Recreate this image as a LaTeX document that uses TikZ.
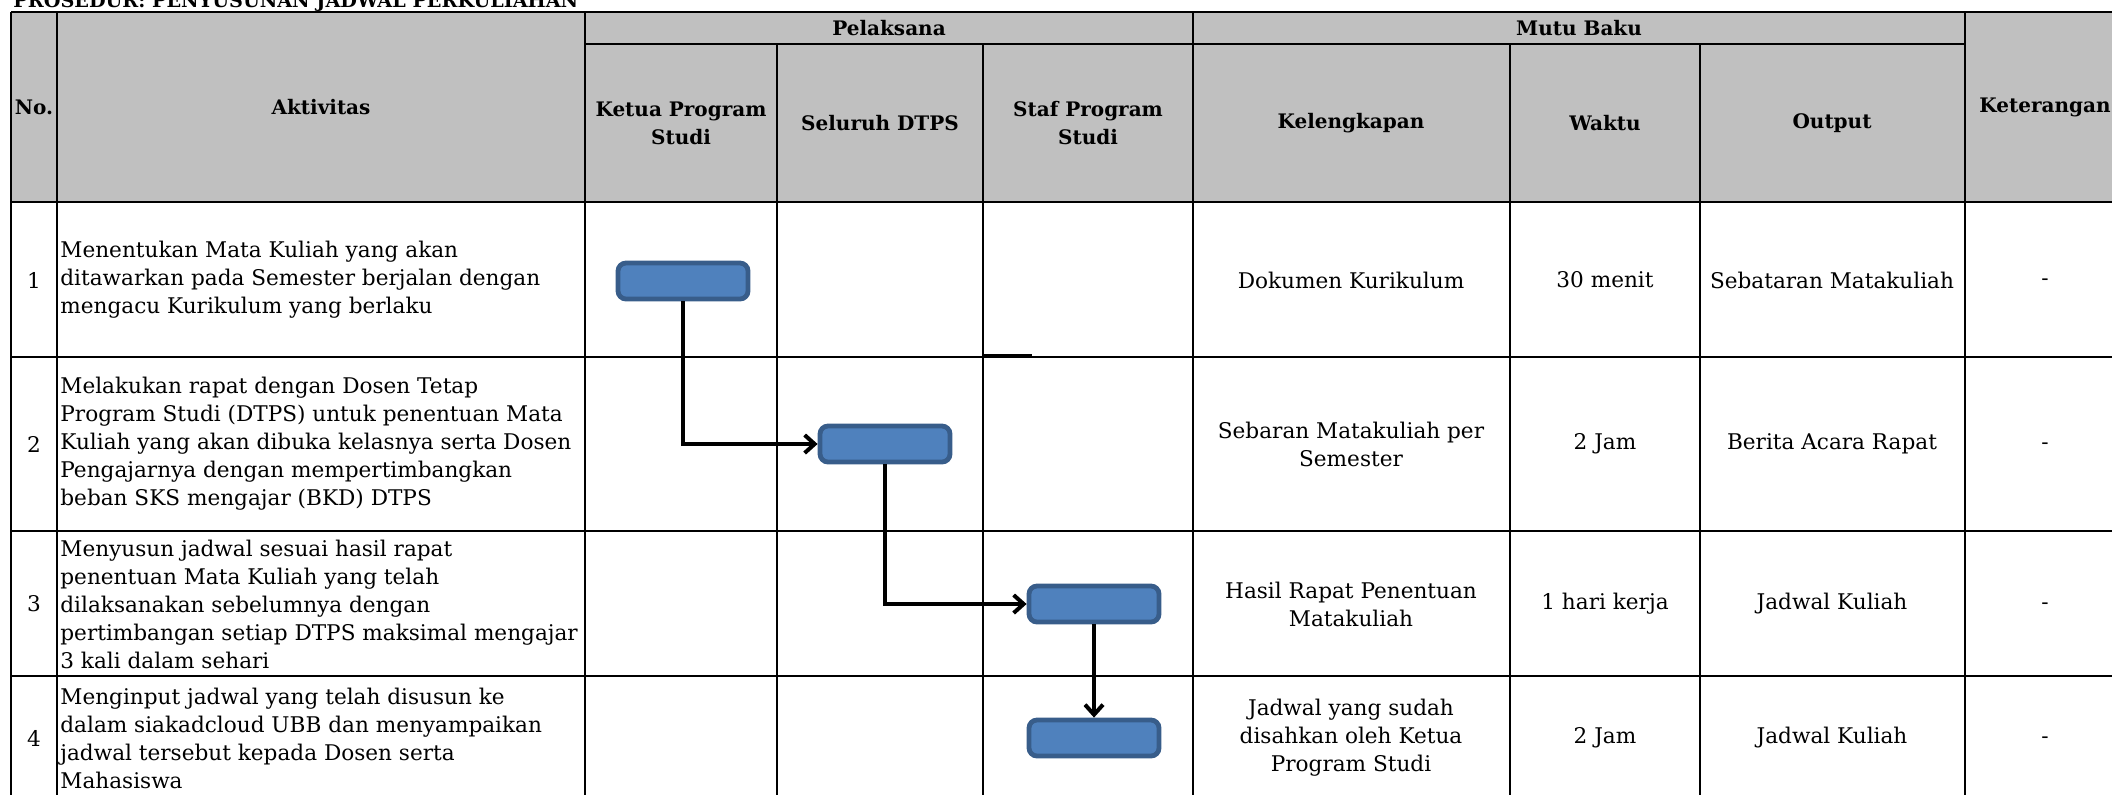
\documentclass[tikz,border=0pt]{standalone}
\usepackage{fontspec}
\setmainfont{DejaVu Serif}
\usetikzlibrary{arrows.meta,positioning}

\definecolor{kotak}{HTML}{4F81BD}
\definecolor{tepi}{HTML}{385D8A}
\definecolor{abu}{HTML}{C0C0C0}

\begin{document}
\begin{tikzpicture}
	[x=0.5pt,y=-0.5pt,font=\fontsize{10.8}{14}\selectfont,
	every node/.style={inner sep=0pt},
	garis/.style={line width=1.3pt},
	kepala/.style={font=\fontsize{10}{14}\selectfont\bfseries,align=center},
	isi/.style={align=center},
	teks/.style={align=left,anchor=west},
	proses/.style={rectangle,rounded corners=4pt,draw=tepi,fill=kotak,line width=2.4pt,
		minimum width=65pt,minimum height=18pt},
	alur/.style={-{Straight Barb[length=5pt,width=9pt]},line width=2pt}]

	\useasboundingbox (0,0) rectangle (2112,794);
	\clip (0,0) rectangle (2112,794);

	% judul dan kepala tabel
	\fill[abu] (11,12) rectangle (2125,202);
	\node[kepala,font=\fontsize{9.6}{14}\selectfont\bfseries,anchor=base west] (judulDok) at (13,7) {PROSEDUR: PENYUSUNAN JADWAL PERKULIAHAN};

	\foreach \x in {11,57,585,1193,1965,2125}
		\draw[garis] (\x,12) -- (\x,800);
	\foreach \x in {777,983,1510,1700}
		\draw[garis] (\x,44) -- (\x,800);
	\foreach \y in {12,202,357,531,676,800}
		\draw[garis] (11,\y) -- (2125,\y);
	\draw[garis] (585,44) -- (1965,44);
	\draw[garis] (984,355.5) -- (1032,355.5);

	\node[kepala] (hNo) at (34,107) {No.};
	\node[kepala] (hAkt) at (321,107) {Aktivitas};
	\node[kepala] (hPel) at (889,28) {Pelaksana};
	\node[kepala] (hMutu) at (1579,28) {Mutu Baku};
	\node[kepala] (hKet) at (2045,107) {Keterangan};
	\node[kepala] (hKetua) at (681,123) {Ketua Program\\Studi};
	\node[kepala] (hDtps) at (880,123) {Seluruh DTPS};
	\node[kepala] (hStaf) at (1088,123) {Staf Program\\Studi};
	\node[kepala] (hLengkap) at (1351,123) {Kelengkapan};
	\node[kepala] (hWaktu) at (1605,123) {Waktu};
	\node[kepala] (hOut) at (1832,123) {Output};

	% isi baris
	\foreach \i/\y/\akt/\leng/\wkt/\out in {
		1/280/{Menentukan Mata Kuliah yang akan\\ditawarkan pada Semester berjalan dengan\\mengacu Kurikulum yang berlaku}/{Dokumen Kurikulum}/{30 menit}/{Sebataran Matakuliah},
		2/444/{Melakukan rapat dengan Dosen Tetap\\Program Studi (DTPS) untuk penentuan Mata\\Kuliah yang akan dibuka kelasnya serta Dosen\\Pengajarnya dengan mempertimbangkan\\beban SKS mengajar (BKD) DTPS}/{Sebaran Matakuliah per\\Semester}/{2 Jam}/{Berita Acara Rapat},
		3/604/{Menyusun jadwal sesuai hasil rapat\\penentuan Mata Kuliah yang telah\\dilaksanakan sebelumnya dengan\\pertimbangan setiap DTPS maksimal mengajar\\3 kali dalam sehari}/{Hasil Rapat Penentuan\\Matakuliah}/{1 hari kerja}/{Jadwal Kuliah},
		4/738/{Menginput jadwal yang telah disusun ke\\dalam siakadcloud UBB dan menyampaikan\\jadwal tersebut kepada Dosen serta\\Mahasiswa}/{Jadwal yang sudah\\disahkan oleh Ketua\\Program Studi}/{2 Jam}/{Jadwal Kuliah}}{
		\node[isi] (no\i) at (34,\y) {\i};
		\node[teks] (akt\i) at (60,\y) {\akt};
		\node[isi] (lengkap\i) at (1351,\y) {\leng};
		\node[isi] (waktu\i) at (1605,\y) {\wkt};
		\node[isi] (out\i) at (1832,\y) {\out};
		\node[isi] (ket\i) at (2045,\y) {\strut-};
	}

	% bagan alur
	\node[proses] (p1) at (683,281) {};
	\node[proses] (p2) at (885,444) {};
	\node[proses] (p3) at (1094,604) {};
	\node[proses] (p4) at (1094,738) {};
	\draw[alur] (p1.south) |- (p2.west);
	\draw[alur] (p2.south) |- (p3.west);
	\draw[alur] (p3.south) -- (p4.north);
\end{tikzpicture}
\end{document}
